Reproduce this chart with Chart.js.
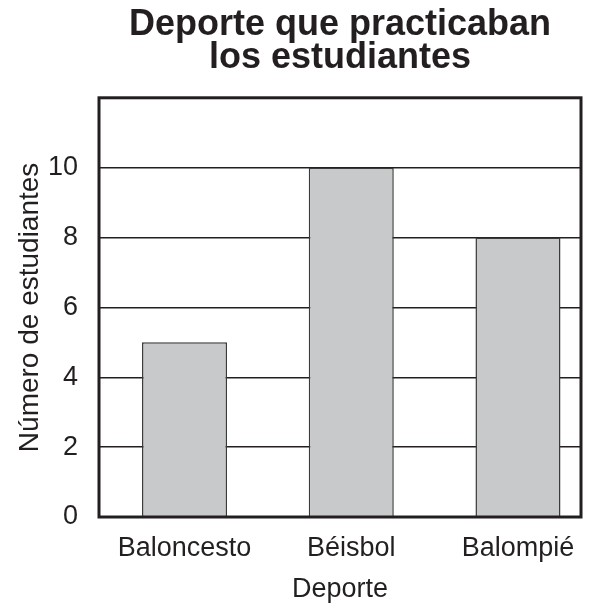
<!DOCTYPE html>
<html>
<head>
<meta charset="utf-8">
<script src="https://cdn.jsdelivr.net/npm/chart.js@4"></script>
<style>
  html, body { margin: 0; padding: 0; background: #fff; }
  #wrap { width: 599px; height: 607px; }
</style>
</head>
<body>
<div id="wrap"><canvas id="sportsChart" width="599" height="607"></canvas></div>
<script>
var sports = ['Baloncesto', 'Béisbol', 'Balompié'];
var students = [5, 10, 8];
var yTicks = [0, 2, 4, 6, 8, 10];

var ink = '#231f20';
var font = "'Liberation Sans', Arial, Helvetica, sans-serif";

// outer box around the plot area
var frame = {
    id: 'frame',
    afterDraw: function(chart) {
        var a = chart.chartArea, ctx = chart.ctx;
        ctx.save();
        ctx.strokeStyle = ink;
        ctx.lineWidth = 3;
        ctx.strokeRect(a.left, a.top, a.right - a.left, a.bottom - a.top);
        ctx.restore();
    }
};

// bars sit at 0, 1, 2 on a linear axis; the range is a little wider on the left, as in the print
var sportsChart = new Chart(document.getElementById('sportsChart'), {
    type: 'bar',
    data: {
        datasets: [{
            data: students.map(function(v, i) { return { x: i, y: v }; }),
            backgroundColor: '#c8c9cb',
            borderColor: '#3a3a3a',
            borderWidth: 1.5,
            categoryPercentage: 1,
            barPercentage: 0.51
        }]
    },
    options: {
        responsive: false,
        animation: false,
        layout: { padding: { left: 0, right: 18, top: 0, bottom: 0 } },
        plugins: {
            legend: { display: false },
            tooltip: { enabled: false },
            title: {
                display: true,
                fullSize: false,
                text: ['Deporte que practicaban', 'los estudiantes'],
                color: ink,
                font: { family: font, size: 36, weight: 'bold', lineHeight: 0.9 },
                padding: { top: 9, bottom: 24 }
            }
        },
        scales: {
            x: {
                type: 'linear',
                min: -0.513,
                max: 2.378,
                offset: false,
                grid: { display: false },
                border: { display: false },
                afterBuildTicks: function(s) {
                    s.ticks = sports.map(function(n, i) { return { value: i }; });
                },
                ticks: {
                    color: ink,
                    font: { family: font, size: 27 },
                    padding: 7,
                    maxRotation: 0,
                    callback: function(v) { return sports[v]; }
                },
                title: {
                    display: true,
                    text: 'Deporte',
                    color: ink,
                    font: { family: font, size: 27 },
                    padding: { top: 6, bottom: 1 }
                },
                afterFit: function(s) { s.height = 90; }
            },
            y: {
                min: 0,
                max: 12,
                grid: {
                    color: ink,
                    lineWidth: 1.5,
                    drawTicks: false
                },
                border: { display: false },
                afterBuildTicks: function(s) {
                    s.ticks = yTicks.map(function(v) { return { value: v }; });
                },
                ticks: {
                    color: ink,
                    font: { family: font, size: 27 },
                    padding: 21
                },
                title: {
                    display: true,
                    text: 'Número de estudiantes',
                    color: ink,
                    font: { family: font, size: 28 },
                    padding: { top: 13, bottom: 0 }
                },
                afterFit: function(s) { s.width = 99; }
            }
        }
    },
    plugins: [frame]
});
</script>
</body>
</html>
